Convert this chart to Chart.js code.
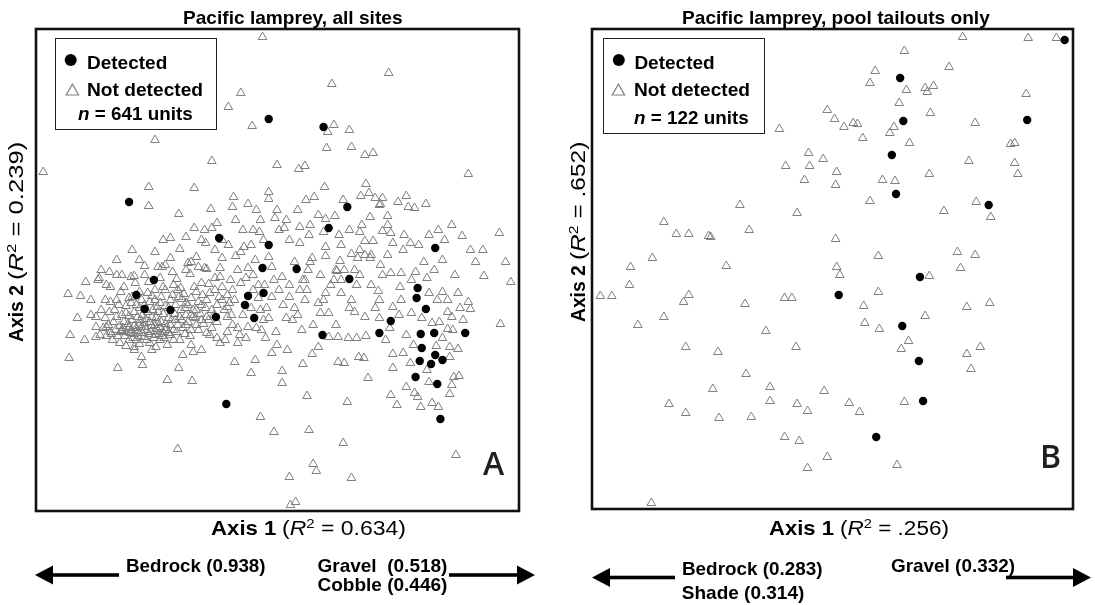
<!DOCTYPE html>
<html>
<head>
<meta charset="utf-8">
<title>Pacific lamprey ordination</title>
<script src="https://cdn.jsdelivr.net/npm/chart.js@4.4.1/dist/chart.umd.min.js"></script>
<style>
    html, body { margin: 0; padding: 0; background: #fff; }
    body {
        width: 1095px; height: 605px; position: relative; overflow: hidden;
        font-family: "Liberation Sans", Arial, sans-serif; color: #000;
    }
    canvas { position: absolute; }
    .lbl { position: absolute; white-space: nowrap; line-height: 1; transform-origin: 0 0; }
    .lbl sup { font-size: 0.65em; line-height: 0; vertical-align: 0; position: relative; top: -0.55em; }
    .part { display: inline-block; transform-origin: 0 50%; }
    .legend { position: absolute; box-sizing: border-box; border: 1.3px solid #222; background: #fff; }
    #marks { position: absolute; left: 0; top: 0; }
</style>
</head>
<body>
<canvas id="allSites" width="495" height="494" style="left:30px;top:23px"></canvas>
<canvas id="tailouts" width="493" height="492" style="left:586px;top:23px"></canvas>
<div class="legend" style="left:55px;top:38px;width:162px;height:92px"></div>
<div class="legend" style="left:603px;top:38px;width:162px;height:96px"></div>
<svg id="marks" width="1095" height="605">
    <!-- legend symbols -->
    <circle cx="70.7" cy="60" r="6" fill="#000"/>
    <polygon points="66.2,95 78.6,95 72.4,84.2" fill="none" stroke="#808080" stroke-width="1.2"/>
    <circle cx="618.8" cy="60" r="6" fill="#000"/>
    <polygon points="612.2,95 624.6,95 618.4,84.2" fill="none" stroke="#808080" stroke-width="1.2"/>
    <!-- loading arrows under axis 1 -->
    <g fill="#000">
        <rect x="50" y="573.2" width="69" height="3.6"/>
        <polygon points="35,575 53,565.5 53,584.5"/>
        <rect x="449" y="573.2" width="70" height="3.6"/>
        <polygon points="535,575 517,565.5 517,584.5"/>
        <rect x="607" y="575.7" width="68" height="3.6"/>
        <polygon points="592,577.5 610,568 610,587"/>
        <rect x="1006" y="575.7" width="70" height="3.6"/>
        <polygon points="1091,577.5 1073,568 1073,587"/>
    </g>
</svg>

<script>
// NMS scores (x100)
const seriesNames = ['Detected', 'Not detected'];

const allSitesDetected = [
    [-8,151],[45,143],[-143,68],[68,63],[50,42],[-56,32],[-8,25],[153,22],[19,1],[-14,2],
    [70,-9],[-119,-10],[136,-18],[-136,-25],[-28,-26],[-13,-23],[135,-28],[-128,-39],[-31,-35],[-22,-48],
    [-59,-47],[-103,-40],[44,-65],[144,-39],[110,-51],[99,-63],[139,-64],[152,-63],[182,-63],[140,-78],
    [153,-85],[138,-91],[160,-90],[149,-94],[134,-107],[155,-114],[158,-149],[-49,-134]
];

const allSitesNotDetected = [
    [-14,233],[108,197],[53,186],[-35,177],[-47,163],[-24,144],[55,145],[49,138],[70,140],[-118,130],
    [48,122],[72,123],[85,115],[93,117],[-63,109],[-226,98],[0,105],[21,101],[27,104],[185,96],
    [-124,83],[-80,82],[46,83],[86,86],[-8,78],[-42,73],[81,74],[89,77],[-8,71],[28,70],
    [36,73],[95,72],[102,72],[-124,64],[-95,56],[-64,61],[-43,63],[-28,66],[64,70],[117,68],
    [125,74],[127,63],[133,62],[144,66],[100,66],[99,65],[-2,52],[9,50],[-16,50],[-58,47],
    [47,51],[56,54],[90,53],[107,54],[-80,42],[-63,42],[-23,40],[-17,38],[2,40],[7,42],
    [22,43],[45,38],[70,40],[80,38],[102,39],[110,37],[156,40],[169,45],[179,34],[215,37],
    [-88,33],[-69,27],[-47,25],[-32,23],[-25,25],[22,27],[31,35],[47,23],[85,29],[93,29],
    [112,27],[123,35],[129,27],[137,25],[-94,21],[-118,18],[-78,13],[-60,20],[-40,14],[-35,18],
    [-21,10],[-8,13],[34,12],[47,14],[61,9],[72,16],[78,12],[91,15],[122,20],[199,20],
    [221,8],[-133,10],[-128,4],[-115,3],[-108,5],[-162,-2],[-155,-5],[-150,-5],[-172,-8],[-165,-15],
    [-138,-6],[-101,-2],[-88,0],[-76,3],[-68,1],[-55,-7],[-28,2],[-5,3],[5,-7],[25,-10],
    [58,-1],[62,-10],[91,-15],[110,-3],[120,-3],[134,-2],[119,-17],[200,-6],[226,-12],[-202,-24],
    [-190,-26],[-180,-30],[-193,-48],[-200,-65],[-201,-88],[-154,-98],[-130,-95],[-106,-110],[-95,-98],[-82,-111],
    [-41,-92],[-21,-90],[-25,-103],[5,-101],[5,-113],[25,-94],[59,-92],[65,-93],[79,-87],[84,-88],
    [88,-108],[29,-126],[68,-132],[-16,-147],[-3,-162],[31,-160],[64,-173],[-96,-179],[35,-194],[38,-201],
    [12,-207],[72,-208],[13,-235],[18,-232],[173,-185],[110,-125],[116,-135],[125,-117],[133,-123],[136,-127],
    [139,-137],[150,-133],[156,-137],[167,-124],[169,-115],[176,-106],[171,-107],[112,-98],[129,-93],[122,-83],
    [112,-84],[147,-112],[145,-100],[167,-87],[175,-79],[167,-77],[154,-76],[132,-75],[165,-59],[157,-52],
    [169,-47],[165,-42],[177,-38],[185,-32],[187,-39],[155,-30],[165,-30],[175,-23],[160,-22],[147,-23],
    [130,-43],[112,-37],[99,-30],[99,-48],[109,-58],[85,-47],[86,-66],[77,-68],[69,-68],[59,-67],
    [50,-67],[57,-55],[50,-43],[42,-43],[40,-33],[47,-23],[62,-23],[70,-38],[75,-42],[72,-30],
    [98,-21],[90,12],[85,15],[75,0],[65,0],[57,0],[216,-54],[40,-77],[34,-84],[24,-60],
    [15,-50],[17,-38],[27,-30],[29,-20],[27,-10],[30,0],[12,-15],[12,-27],[9,-48],[-1,-62],
    [-5,-83],[0,-75],[10,-80],[-11,-68],[-15,-60],[-13,-50],[-8,-48],[-5,-27],[2,-20],[-16,-40],
    [-25,-38],[-28,-57],[-38,-58],[-38,-73],[-36,-65],[-48,-62],[-55,-73],[-58,-68],[-65,-65],[-68,-63],
    [-73,-80],[-73,-50],[-81,-82],[-91,-85],[-83,-75],[-100,-70],[-106,-75],[-108,-60],[-118,-65],[-121,-80],
    [-131,-87],[-138,-80],[-138,-77],[-150,-60],[-161,-62],[-171,-65],[-175,-67],[-175,-57],[-175,-47],[-165,-57],
    [-170,-40],[-166,-30],[-161,-17],[-173,-10],[-155,-30],[-148,-17],[-141,-33],[-146,-43],[-155,-47],[-141,-7],
    [-128,-5],[-111,3],[-110,-17],[-93,-18],[-88,-33],[-81,-47],[-95,-27],[-86,7],[-70,2],[-73,-13],
    [-65,-23],[-55,2],[-53,-17],[-48,-37],[-41,-30],[-38,0],[-35,-13],[-68,-47],[-48,-47],[-125,-23],
    [-121,-47],[-115,-53],[-128,-57],[-135,-47],[-141,-63],[-151,-62],[-136,-70],
    // dense cluster on the left
    [-150,-61],[-146,-62],[-142,-63],[-138,-64],[-134,-61],[-130,-63],[-126,-60],[-122,-62],[-118,-61],[-114,-64],
    [-110,-62],[-143,-58],[-138,-56],[-133,-55],[-128,-53],[-123,-52],[-118,-55],[-113,-57],[-108,-54],[-140,-50],
    [-132,-50],[-130,-45],[-125,-42],[-120,-40],[-115,-42],[-110,-44],[-105,-48],[-133,-38],[-128,-35],[-123,-32],
    [-118,-30],[-113,-33],[-108,-36],[-103,-30],[-98,-35],[-93,-40],[-88,-45],[-138,-42],[-143,-46],[-148,-52],
    [-152,-56],[-156,-60],[-160,-64],[-98,-50],[-103,-55],[-100,-60],[-96,-55],[-92,-50],[-88,-55],[-83,-60],
    [-78,-55],[-83,-45],[-78,-40],[-73,-35],[-68,-30],[-63,-40],[-58,-35],[-53,-30],[-48,-25],[-43,-20],
    [-83,-28],[-78,-22],[-90,-24],[-100,-15],[-108,-20],[-118,-20],[-133,-22],[-143,-28],[-153,-35],[-162,-42],
    [-166,-48],[-168,-58],[-126,-70],[-113,-70],[-143,-70],[-103,-65],
    [-158,-52],[-154,-66],[-149,-58],[-147,-66],[-144,-54],[-141,-60],[-139,-68],[-136,-58],[-134,-66],[-131,-57],
    [-129,-67],[-127,-49],[-124,-64],[-121,-56],[-119,-68],[-117,-48],[-116,-59],[-112,-52],[-111,-66],[-107,-58],
    [-105,-63],[-102,-50],[-99,-44],[-97,-62],[-94,-47],[-91,-58],[-89,-38],[-86,-52],[-84,-66],[-81,-40],
    [-79,-48],[-76,-60],[-74,-44],[-71,-54],[-69,-38],[-66,-50],[-63,-58],[-61,-45],[-58,-52],[-56,-27],
    [-51,-40],[-46,-33],[-44,-45],[-60,-20],[-66,-14],[-72,-25],[-76,-32],[-80,-17],[-86,-35],[-92,-29],
    [-96,-20],[-101,-25],[-105,-38],[-112,-27],[-116,-37],[-121,-26],[-127,-40],[-131,-30],[-136,-35],[-140,-27],
    [-146,-36],[-150,-45],[-157,-40],[-163,-55],[-165,-66],[-159,-70],[-152,-73],[-146,-76],[-133,-74],[-123,-73],
    [-117,-77],[-109,-68],[-94,-70],[-89,-64],[-161,-32],[-151,-22],[-137,-13],[-124,-12],[-113,-8],[-97,-9],
    // remaining scatter
    [32,8],[42,-5],[52,-15],[17,8],[-3,-10],[-18,-15],[-23,-5],[-53,12],[-83,8],[-103,12],
    [-103,32],[-73,30],[-53,30],[-33,40],[-13,30],[12,30],[32,45],[62,25],[82,45],[107,45],
    [147,35],[162,30],[187,20],[192,8],[172,-5],[152,0],[142,8],[107,15],[102,-5],[77,-15],
    [22,-20],[-33,-45],[-23,-20],[-84,-4],[-60,-8],[-45,-10],[-30,-8],[-18,-28],[-10,-38],[-20,-58],
    [-30,-68],[-43,-55],[-50,-70],[-12,-15],[6,-35],[20,-45],[35,-55],[45,-30],[55,-10],[80,-5],
    [95,-38],[118,-45],[125,-65],[105,-70],[120,-30],[140,-48],[150,-53],[160,-68],[170,-60],[180,-50],
    [145,-8],[160,10],[130,-10],[100,5],[80,20],[60,35],[40,55],[20,60],[0,60],[-20,60],
    [-40,50],[-70,40],[-110,30],[-140,20],[-155,10],[-170,0],[-185,-12],[-180,-45],[-186,-70]
];

const tailoutsDetected = [
    [223,229],[65,191],[68,148],[187,149],[57,114],[61,75],[150,64],[84,-8],[6,-26],[67,-57],
    [83,-92],[87,-132],[42,-168]
];

const tailoutsNotDetected = [
    [125,232],[188,231],[215,231],[69,218],[112,202],[41,198],[36,186],[71,179],[89,181],[91,177],
    [97,183],[186,175],[64,166],[94,156],[-5,159],[2,150],[11,142],[20,146],[24,145],[59,142],
    [55,136],[137,146],[-51,140],[29,131],[74,126],[171,125],[175,126],[-23,116],[-9,110],[-45,103],
    [-22,103],[4,97],[131,108],[175,106],[178,95],[-27,89],[3,84],[48,89],[60,88],[93,95],
    [-89,64],[-34,56],[36,68],[107,58],[138,67],[152,52],[-162,47],[-150,35],[-138,35],[-119,33],
    [-117,32],[-80,39],[3,30],[-173,11],[-194,2],[-102,3],[44,13],[120,17],[137,14],[123,1],
    [4,2],[7,-6],[93,-7],[-195,-16],[44,-23],[-223,-27],[-212,-27],[-138,-26],[-143,-33],[-187,-56],
    [-162,-48],[-84,-35],[-46,-29],[-39,-29],[30,-37],[129,-38],[151,-34],[89,-47],[31,-54],[45,-60],
    [-64,-62],[73,-72],[66,-80],[-141,-78],[-110,-83],[-35,-78],[142,-78],[129,-85],[133,-100],[-83,-105],
    [-115,-120],[-60,-118],[-8,-122],[-60,-132],[-157,-135],[-34,-135],[-24,-142],[16,-134],[26,-143],[69,-133],
    [-141,-144],[-109,-149],[-78,-148],[-46,-168],[-32,-172],[-5,-188],[-24,-199],[62,-196],[-174,-234]
];

// Plot frame drawn round the chart area
const frameBox = {
    id: 'frameBox',
    afterDraw(chart) {
        const { ctx, chartArea: a } = chart;
        ctx.save();
        ctx.strokeStyle = '#111';
        ctx.lineWidth = 2.6;
        ctx.strokeRect(a.left, a.top, a.right - a.left, a.bottom - a.top);
        ctx.restore();
    }
};

function toPoints(pairs) {
    return pairs.map(p => ({ x: p[0], y: p[1] }));
}

function makeOrdination(canvasId, detected, notDetected, xLim, yLim) {
    const ctx = document.getElementById(canvasId).getContext('2d');
    return new Chart(ctx, {
        type: 'scatter',
        data: {
            datasets: [{
                label: seriesNames[0],
                data: toPoints(detected),
                pointStyle: 'circle',
                pointRadius: 4.2,
                pointBorderWidth: 0,
                backgroundColor: '#000',
                borderColor: '#000'
            }, {
                label: seriesNames[1],
                data: toPoints(notDetected),
                pointStyle: 'triangle',
                pointRadius: 5,
                pointBorderWidth: 1,
                backgroundColor: 'rgba(255,255,255,0)',
                borderColor: '#7f7f7f'
            }]
        },
        options: {
            responsive: false,
            animation: false,
            events: [],
            layout: { padding: 6 },
            scales: {
                x: { type: 'linear', display: false, min: xLim[0], max: xLim[1] },
                y: { type: 'linear', display: false, min: yLim[0], max: yLim[1] }
            },
            plugins: {
                legend: { display: false },
                tooltip: { enabled: false }
            }
        },
        plugins: [frameBox]
    });
}

makeOrdination('allSites', allSitesDetected, allSitesNotDetected, [-233, 234], [-241, 241]);
makeOrdination('tailouts', tailoutsDetected, tailoutsNotDetected, [-231, 231], [-240, 240]);

// ---- text ----
function stretchPart(span, target) {
    const w = span.offsetWidth;
    const k = target / w;
    span.style.transform = 'scaleX(' + k + ')';
    span.style.marginRight = ((k - 1) * w) + 'px';
}

// parts: [html, weight, targetWidth]
function addLabel(parts, x, baseline, size, opts = {}) {
    const el = document.createElement('div');
    el.className = 'lbl';
    el.style.fontSize = size + 'px';
    if (opts.family) el.style.fontFamily = opts.family;
    if (opts.color) el.style.color = opts.color;
    const spans = parts.map((p, i) => {
        const s = document.createElement('span');
        s.className = 'part';
        s.innerHTML = p[0];
        s.style.fontWeight = p[1];
        el.appendChild(s);
        if (i < parts.length - 1) el.appendChild(document.createTextNode(' '));
        return s;
    });
    document.body.appendChild(el);
    spans.forEach((s, i) => { if (parts[i][2]) stretchPart(s, parts[i][2]); });
    const asc = opts.asc || 0.8465;
    el.style.top = (baseline - asc * size) + 'px';
    el.style.left = x + 'px';
    return el;
}

function addRotated(parts, cx, cy, size) {
    const el = addLabel(parts, 0, 0, size);
    const w = el.offsetWidth, h = el.offsetHeight;
    el.style.left = (cx - w / 2) + 'px';
    el.style.top = (cy - h / 2) + 'px';
    el.style.transformOrigin = '50% 50%';
    el.style.transform = 'rotate(-90deg)';
}

// titles
addLabel([['Pacific lamprey, all sites', 'bold', 220]], 183, 25, 18.5);
addLabel([['Pacific lamprey, pool tailouts only', 'bold', 308]], 682, 25, 18.5);

// legends
addLabel([['Detected', 'bold', 80]], 87, 69, 19);
addLabel([['Not detected', 'bold', 116]], 87, 96, 19);
addLabel([['<i>n</i> = 641 units', 'bold', 115]], 77.6, 120, 19);
addLabel([['Detected', 'bold', 80]], 634.4, 69, 19);
addLabel([['Not detected', 'bold', 116]], 634.4, 96, 19);
addLabel([['<i>n</i> = 122 units', 'bold', 115]], 634.4, 124, 19);

// panel letters
addLabel([['A', '600']], 483, 475, 32, { family: '"Open Sans", sans-serif', color: '#231f20', asc: 0.888 });
addLabel([['B', '600']], 1040, 468, 32, { family: '"Open Sans", sans-serif', color: '#231f20', asc: 0.888 });

// axis 2 titles
addRotated([['Axis 2', 'bold', 56.4], ['(<i>R</i><sup>2</sup> = 0.239)', 'normal', 138]], 16.5, 241.7, 19.5);
addRotated([['Axis 2', 'bold', 56.4], ['(<i>R</i><sup>2</sup> = .652)', 'normal', 118]], 578, 231.7, 19.5);

// axis 1 titles
addLabel([['Axis 1', 'bold', 65], ['(<i>R</i><sup>2</sup> = 0.634)', 'normal', 124.5]], 210.7, 535.7, 20.5);
addLabel([['Axis 1', 'bold', 64.5], ['(<i>R</i><sup>2</sup> = .256)', 'normal', 108.8]], 769, 535.7, 20.5);

// loadings
addLabel([['Bedrock (0.938)', 'bold', 140]], 126.3, 572, 19);
addLabel([['Gravel&nbsp;&nbsp;(0.518)', 'bold', 130]], 317.5, 572, 19);
addLabel([['Cobble (0.446)', 'bold', 130]], 317.5, 591, 19);
addLabel([['Bedrock (0.283)', 'bold', 141]], 681.8, 575, 19);
addLabel([['Shade (0.314)', 'bold', 123]], 681.8, 599, 19);
addLabel([['Gravel (0.332)', 'bold', 124.4]], 890.6, 572, 19);
</script>
</body>
</html>
